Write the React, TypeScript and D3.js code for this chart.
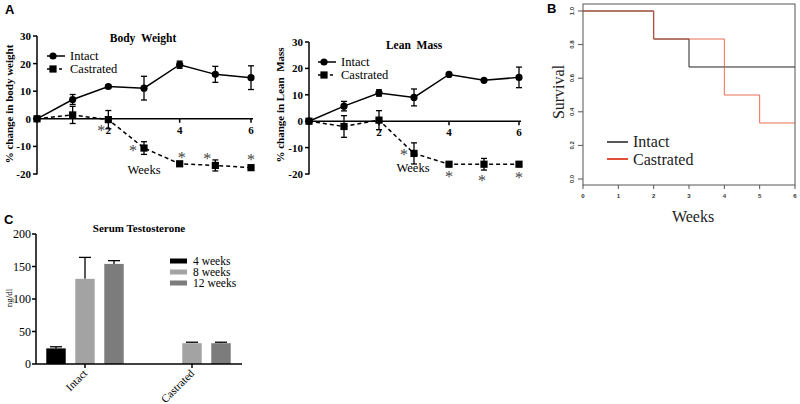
import React from "react";
import * as d3 from "d3";

// ---------- DATA ----------
const weeks = [0, 1, 2, 3, 4, 5, 6];
const bwIntact = [0, 7, 11.7, 11.1, 19.6, 16.1, 14.9];
const bwIntactErr = [0, 1.8, 0.5, 4.3, 1.3, 2.9, 4.3];
const bwCastrated = [0, 1.4, -0.3, -10.6, -16.3, -16.9, -17.7];
const bwCastratedErr = [0, 3.1, 3.3, 2.3, 0.5, 2.0, 0.4];
const lmIntact = [0, 5.7, 10.7, 9.0, 17.7, 15.5, 16.6];
const lmIntactErr = [0, 1.8, 1.2, 3.2, 0.4, 0.5, 3.9];
const lmCastrated = [0, -2.0, 0.4, -12.2, -16.3, -16.3, -16.3];
const lmCastratedErr = [0, 4.1, 3.6, 4.0, 0.5, 2.2, 0.4];
const pctTicks = [-20, -10, 0, 10, 20, 30];
const weekTicks = [2, 4, 6];

const survWeeks = [0, 1, 2, 3, 4, 5, 6];
const survIntact = [
  { t: 0, s: 1 },
  { t: 2, s: 0.8333 },
  { t: 3, s: 0.6667 },
  { t: 6, s: 0.6667 },
];
const survCastrated = [
  { t: 0, s: 1 },
  { t: 2, s: 0.8333 },
  { t: 4, s: 0.5 },
  { t: 5, s: 0.3333 },
  { t: 6, s: 0.3333 },
];
const survTicks = [0, 0.2, 0.4, 0.6, 0.8, 1.0];

const groups = ["Intact", "Castrated"];
const periods = ["4 weeks", "8 weeks", "12 weeks"];
const testoValues = [
  [24, 131, 154],
  [null, 32, 32],
];
const testoErr = [
  [2.5, 33, 5],
  [null, 1.5, 1.5],
];
const testoTicks = [0, 50, 100, 150, 200];
const barColors = ["#000000", "#a3a3a3", "#7c7c7c"];

const SERIF = "'Liberation Serif', 'Times New Roman', serif";
const SANS = "'Liberation Sans', Arial, sans-serif";

type Star = { w: number; series: number[]; dx: number; dy: number };

function LinePanel(props: {
  xr: [number, number];
  yr: [number, number];
  title: string;
  titleX: number;
  titleY: number;
  ylabel: string;
  ylabelX: number;
  ylabelY: number;
  intact: number[];
  intactErr: number[];
  cast: number[];
  castErr: number[];
  legendX: number;
  legendY: number;
  weeksX: number;
  weeksY: number;
  stars: Star[];
}) {
  const x = d3.scaleLinear().domain([0, 6]).range(props.xr);
  const y = d3.scaleLinear().domain([-20, 30]).range(props.yr);
  const line = d3
    .line<number>()
    .x((_, i) => x(weeks[i]))
    .y((d) => y(d));
  const x0 = props.xr[0];
  const errBars = (vals: number[], errs: number[], key: string) =>
    vals.map((v, i) =>
      errs[i] > 0 ? (
        <g key={key + i} stroke="#000" strokeWidth={1.3}>
          <line x1={x(weeks[i])} x2={x(weeks[i])} y1={y(v - errs[i])} y2={y(v + errs[i])} />
          <line x1={x(weeks[i]) - 3} x2={x(weeks[i]) + 3} y1={y(v - errs[i])} y2={y(v - errs[i])} />
          <line x1={x(weeks[i]) - 3} x2={x(weeks[i]) + 3} y1={y(v + errs[i])} y2={y(v + errs[i])} />
        </g>
      ) : null
    );
  return (
    <g>
      {/* axes */}
      <line x1={x0} x2={x0} y1={y(30)} y2={y(-20) + 0.5} stroke="#000" strokeWidth={1.5} />
      {pctTicks.map((t) => (
        <g key={t}>
          <line x1={x0 - 4} x2={x0} y1={y(t)} y2={y(t)} stroke="#000" strokeWidth={1.5} />
          <text x={x0 - 6} y={y(t) + 4} textAnchor="end" fontFamily={SERIF} fontWeight="bold" fontSize={11}>
            {t}
          </text>
        </g>
      ))}
      <line x1={x0} x2={x(6) + 2} y1={y(0)} y2={y(0)} stroke="#000" strokeWidth={1.5} />
      {weekTicks.map((t) => (
        <g key={t}>
          <line x1={x(t)} x2={x(t)} y1={y(0)} y2={y(0) + 4} stroke="#000" strokeWidth={1.5} />
          <text x={x(t)} y={y(0) + 15} textAnchor="middle" fontFamily={SERIF} fontWeight="bold" fontSize={11}>
            {t}
          </text>
        </g>
      ))}
      <text x={props.titleX} y={props.titleY} textAnchor="middle" fontFamily={SERIF} fontWeight="bold" fontSize={11.5}>
        {props.title}
      </text>
      <text
        transform={`translate(${props.ylabelX},${props.ylabelY}) rotate(-90)`}
        textAnchor="middle"
        fontFamily={SERIF}
        fontWeight="bold"
        fontSize={11}
      >
        {props.ylabel}
      </text>
      {/* series */}
      <path d={line(props.cast) || ""} fill="none" stroke="#000" strokeWidth={1.5} strokeDasharray="4,3" />
      <path d={line(props.intact) || ""} fill="none" stroke="#000" strokeWidth={1.5} />
      {errBars(props.intact, props.intactErr, "i")}
      {errBars(props.cast, props.castErr, "c")}
      {props.intact.map((v, i) => (
        <circle key={"ci" + i} cx={x(weeks[i])} cy={y(v)} r={3.6} fill="#000" />
      ))}
      {props.cast.map((v, i) => (
        <rect key={"rc" + i} x={x(weeks[i]) - 3.6} y={y(v) - 3.6} width={7.2} height={7.2} fill="#000" />
      ))}
      {/* stars */}
      {props.stars.map((s, i) => (
        <text
          key={"s" + i}
          x={x(s.w) + s.dx}
          y={y(s.series[s.w]) + s.dy + 8}
          textAnchor="middle"
          fontFamily={SERIF}
          fontSize={16}
          fill="#444"
        >
          *
        </text>
      ))}
      <text x={props.weeksX} y={props.weeksY + 4} textAnchor="middle" fontFamily={SERIF} fontSize={12.5}>
        Weeks
      </text>
      {/* legend */}
      <g>
        <line x1={props.legendX} x2={props.legendX + 18} y1={props.legendY} y2={props.legendY} stroke="#000" strokeWidth={1.5} />
        <circle cx={props.legendX + 6} cy={props.legendY} r={3.6} fill="#000" />
        <text x={props.legendX + 23} y={props.legendY + 4} fontFamily={SERIF} fontSize={12.5}>
          Intact
        </text>
        <line
          x1={props.legendX}
          x2={props.legendX + 18}
          y1={props.legendY + 13}
          y2={props.legendY + 13}
          stroke="#000"
          strokeWidth={1.5}
          strokeDasharray="3,3"
        />
        <rect x={props.legendX + 6 - 3.6} y={props.legendY + 13 - 3.6} width={7.2} height={7.2} fill="#000" />
        <text x={props.legendX + 23} y={props.legendY + 17} fontFamily={SERIF} fontSize={12.5}>
          Castrated
        </text>
      </g>
    </g>
  );
}

function SurvivalPanel() {
  const x = d3.scaleLinear().domain([0, 6]).range([583, 795]);
  const y = d3.scaleLinear().domain([0, 1]).range([179, 11]);
  const step = d3
    .line<{ t: number; s: number }>()
    .x((d) => x(d.t))
    .y((d) => y(d.s))
    .curve(d3.curveStepAfter);
  return (
    <g>
      <rect x={583} y={4} width={795 - 583} height={181} fill="none" stroke="#555" strokeWidth={1} />
      {survTicks.map((t) => (
        <g key={t}>
          <line x1={578} x2={583} y1={y(t)} y2={y(t)} stroke="#555" strokeWidth={1} />
          <text
            transform={`translate(${574},${y(t)}) rotate(-90)`}
            textAnchor="middle"
            fontFamily={SANS}
            fontWeight="bold"
            fontSize={6}
            fill="#333"
          >
            {t.toFixed(1)}
          </text>
        </g>
      ))}
      {survWeeks.map((t) => (
        <g key={t}>
          <line x1={x(t)} x2={x(t)} y1={185} y2={189} stroke="#555" strokeWidth={1} />
          <text x={x(t)} y={198} textAnchor="middle" fontFamily={SANS} fontWeight="bold" fontSize={6} fill="#333">
            {t}
          </text>
        </g>
      ))}
      <path d={step(survIntact) || ""} fill="none" stroke="#222" strokeWidth={1} />
      <path d={step(survCastrated) || ""} fill="none" stroke="#e8543c" strokeWidth={1} strokeOpacity={0.85} />
      <text transform="translate(564,92) rotate(-90)" textAnchor="middle" fontFamily={SERIF} fontSize={16} fill="#222">
        Survival
      </text>
      <text x={693} y={222} textAnchor="middle" fontFamily={SERIF} fontSize={16} fill="#222">
        Weeks
      </text>
      <line x1={607} x2={628} y1={142} y2={142} stroke="#222" strokeWidth={1.5} />
      <text x={633} y={147} fontFamily={SERIF} fontSize={16} fill="#222">
        Intact
      </text>
      <line x1={607} x2={628} y1={159} y2={159} stroke="#e03a22" strokeWidth={1.8} />
      <text x={633} y={165} fontFamily={SERIF} fontSize={16} fill="#222">
        Castrated
      </text>
    </g>
  );
}

function BarPanel() {
  const y = d3.scaleLinear().domain([0, 200]).range([364, 234]);
  const gx = d3.scaleBand().domain(groups).range([31.5, 245.5]);
  const sx = d3.scaleBand().domain(periods).range([-43.5, 43.5]).paddingInner(0.33).paddingOuter(0.165);
  const bw = sx.bandwidth();
  return (
    <g>
      {groups.map((g, gi) =>
        periods.map((p, pi) => {
          const v = testoValues[gi][pi];
          if (v == null) return null;
          const cx = (gx(g) as number) + gx.bandwidth() / 2;
          const bx = cx + (sx(p) as number);
          const e = testoErr[gi][pi] as number;
          const mid = bx + bw / 2;
          return (
            <g key={g + p}>
              <line x1={mid} x2={mid} y1={y(v)} y2={y(v + e)} stroke="#000" strokeWidth={1.3} />
              <line x1={mid - 6} x2={mid + 6} y1={y(v + e)} y2={y(v + e)} stroke="#000" strokeWidth={1.3} />
              <rect x={bx} y={y(v)} width={bw} height={y(0) - y(v)} fill={barColors[pi]} />
            </g>
          );
        })
      )}
      <line x1={36} x2={36} y1={234} y2={364} stroke="#000" strokeWidth={1.5} />
      {testoTicks.map((t) => (
        <g key={t}>
          <line x1={32} x2={36} y1={y(t)} y2={y(t)} stroke="#000" strokeWidth={1.5} />
          <text x={31} y={y(t) + 4} textAnchor="end" fontFamily={SERIF} fontSize={12}>
            {t}
          </text>
        </g>
      ))}
      <line x1={36} x2={242} y1={364} y2={364} stroke="#000" strokeWidth={1.5} />
      {groups.map((g) => {
        const cx = (gx(g) as number) + gx.bandwidth() / 2;
        return (
          <g key={g}>
            <line x1={cx} x2={cx} y1={364} y2={368} stroke="#000" strokeWidth={1.5} />
            <text
              transform={`translate(${cx + 3},${374}) rotate(-45)`}
              textAnchor="end"
              fontFamily={SERIF}
              fontSize={11}
            >
              {g}
            </text>
          </g>
        );
      })}
      <text x={139} y={232} textAnchor="middle" fontFamily={SERIF} fontWeight="bold" fontSize={11}>
        Serum Testosterone
      </text>
      <text transform="translate(12,298) rotate(-90)" textAnchor="middle" fontFamily={SERIF} fontSize={9}>
        ng/dl
      </text>
      {periods.map((p, i) => (
        <g key={p}>
          <rect x={170} y={258.5 + i * 11} width={17} height={5} fill={barColors[i]} />
          <text x={193} y={265 + i * 11} fontFamily={SERIF} fontSize={11.5}>
            {p}
          </text>
        </g>
      ))}
    </g>
  );
}

export default function App() {
  return (
    <svg
      width={800}
      height={404}
      viewBox="0 0 800 404"
      style={{ position: "absolute", left: 0, top: 0, background: "#fff" }}
    >
      <rect width={800} height={404} fill="#fff" />
      <text x={5} y={14} fontFamily={SANS} fontWeight="bold" fontSize={13}>
        A
      </text>
      <text x={547} y={13} fontFamily={SANS} fontWeight="bold" fontSize={13}>
        B
      </text>
      <text x={4} y={224} fontFamily={SANS} fontWeight="bold" fontSize={13}>
        C
      </text>
      <LinePanel
        xr={[37, 251]}
        yr={[174, 36]}
        title={"Body\u00a0\u00a0Weight"}
        titleX={143}
        titleY={42}
        ylabel="% change in body weight"
        ylabelX={13}
        ylabelY={104}
        intact={bwIntact}
        intactErr={bwIntactErr}
        cast={bwCastrated}
        castErr={bwCastratedErr}
        legendX={47}
        legendY={56}
        weeksX={144}
        weeksY={170}
        stars={[
          { w: 2, series: bwCastrated, dx: -7, dy: 8 },
          { w: 3, series: bwCastrated, dx: -11, dy: 0 },
          { w: 4, series: bwCastrated, dx: 2, dy: -9 },
          { w: 5, series: bwCastrated, dx: -8, dy: -9 },
          { w: 6, series: bwCastrated, dx: 0, dy: -11 },
        ]}
      />
      <LinePanel
        xr={[309, 519]}
        yr={[174, 42]}
        title={"Lean\u00a0\u00a0Mass"}
        titleX={414}
        titleY={49}
        ylabel={"% change in Lean\u00a0\u00a0Mass"}
        ylabelX={284}
        ylabelY={105}
        intact={lmIntact}
        intactErr={lmIntactErr}
        cast={lmCastrated}
        castErr={lmCastratedErr}
        legendX={318}
        legendY={62}
        weeksX={413}
        weeksY={168}
        stars={[
          { w: 3, series: lmCastrated, dx: -10, dy: -1 },
          { w: 4, series: lmCastrated, dx: 0, dy: 10 },
          { w: 5, series: lmCastrated, dx: -2, dy: 14 },
          { w: 6, series: lmCastrated, dx: 0, dy: 11 },
        ]}
      />
      <SurvivalPanel />
      <BarPanel />
    </svg>
  );
}
